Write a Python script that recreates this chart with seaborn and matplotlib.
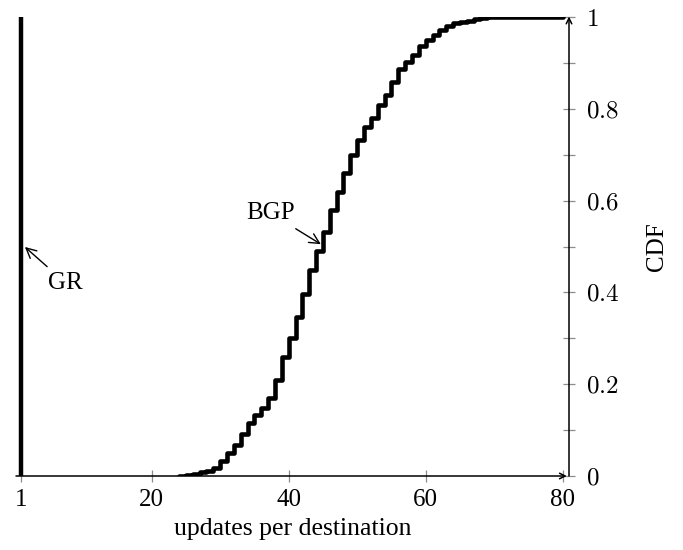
import seaborn as sns
import matplotlib.pyplot as plt
from matplotlib.ticker import FixedLocator

# CDF of updates per destination
bgp_x = list(range(24, 81))
bgp_cdf = [0.001, 0.003, 0.005, 0.008, 0.011, 0.018, 0.033, 0.050, 0.068, 0.092,
           0.115, 0.132, 0.148, 0.170, 0.209, 0.259, 0.301, 0.346, 0.396, 0.449,
           0.490, 0.532, 0.580, 0.619, 0.660, 0.700, 0.732, 0.760, 0.780, 0.808,
           0.830, 0.858, 0.887, 0.902, 0.917, 0.937, 0.950, 0.961, 0.972, 0.980,
           0.987, 0.990, 0.992, 0.995, 0.997, 0.999, 1.0, 1.0, 1.0, 1.0,
           1.0, 1.0, 1.0, 1.0, 1.0, 1.0, 1.0]

gr_x = [1, 1]
gr_cdf = [0, 1]

x_ticks = [1, 20, 40, 60, 80]
y_ticks = [0, 0.2, 0.4, 0.6, 0.8, 1]
y_minor = [0.1, 0.3, 0.5, 0.7, 0.9]
y_tick_labels = ['$0$', '$0.2$', '$0.4$', '$0.6$', '$0.8$', '$1$']

sns.set_style('white')
plt.rcParams['font.family'] = ['Liberation Serif', 'DejaVu Serif']
plt.rcParams['mathtext.fontset'] = 'cm'
plt.rcParams['text.color'] = 'black'
plt.rcParams['axes.labelcolor'] = 'black'

fig = plt.figure(figsize=(6.83, 5.5), dpi=100)
ax = fig.add_axes([16 / 683, 74 / 550, 553 / 683, 459 / 550])

# curves
sns.lineplot(x=gr_x, y=gr_cdf, ax=ax, color='black', lw=3.2,
             sort=False, estimator=None, solid_capstyle='butt')
sns.lineplot(x=bgp_x, y=bgp_cdf, ax=ax, color='black', lw=3.3,
             drawstyle='steps-post', estimator=None)

ax.set_xlim(0.2, 80.92)
ax.set_ylim(0, 1.0)

# axis lines with arrow heads
for s in ax.spines.values():
    s.set_visible(False)
ax.annotate('', xy=(0.996, 0), xytext=(0, 0), xycoords='axes fraction',
            arrowprops=dict(arrowstyle='->', lw=1.1, color='black',
                            shrinkA=0, shrinkB=0))
ax.annotate('', xy=(1, 1.001), xytext=(1, 0), xycoords='axes fraction',
            arrowprops=dict(arrowstyle='->', lw=1.1, color='black',
                            shrinkA=0, shrinkB=0))

# ticks
ax.set_xticks(x_ticks)
ax.set_xticklabels([str(t) for t in x_ticks])
ax.yaxis.tick_right()
ax.set_yticks(y_ticks)
ax.set_yticklabels(y_tick_labels)
ax.yaxis.set_minor_locator(FixedLocator(y_minor))
ax.tick_params(axis='both', which='both', direction='inout', length=8,
               width=0.9, color='#8c8c8c', labelcolor='black', labelsize=18)
ax.tick_params(axis='x', bottom=True, top=False, pad=5)
ax.tick_params(axis='y', which='both', right=True, left=False, pad=8)

# labels
ax.set_xlabel('updates per destination', fontsize=18.5)
ax.xaxis.set_label_coords(0.5, -0.092)
ax.yaxis.set_label_position('right')
ax.set_ylabel('CDF', fontsize=18)
ax.yaxis.set_label_coords(1.139, 0.5)

# annotations
ax.annotate('BGP', xy=(44.7, 0.505), xytext=(37.3, 0.573), ha='center',
            va='center', fontsize=18,
            arrowprops=dict(arrowstyle='->', lw=1, color='black', shrinkB=0))
ax.annotate('GR', xy=(1.5, 0.499), xytext=(7.4, 0.421), ha='center',
            va='center', fontsize=18,
            arrowprops=dict(arrowstyle='->', lw=1, color='black', shrinkB=0))

plt.savefig('out.png', dpi=100)
